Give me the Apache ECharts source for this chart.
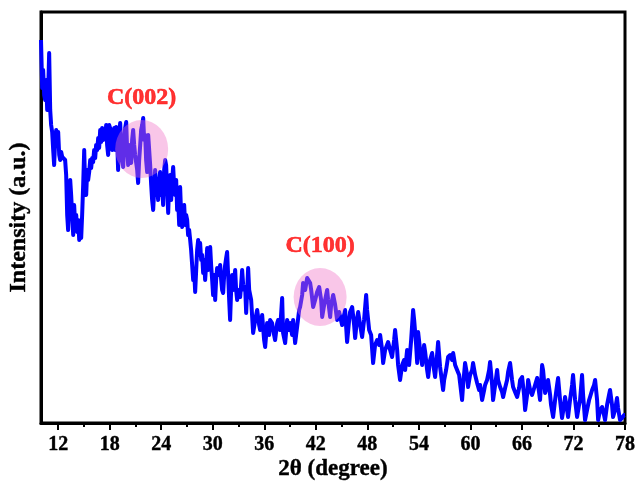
<!DOCTYPE html>
<html>
<head>
<meta charset="utf-8">
<script src="https://cdn.jsdelivr.net/npm/echarts@6/dist/echarts.min.js"></script>
<style>
  html, body { margin: 0; padding: 0; background: #fff; }
  #chart { width: 636px; height: 482px; }
</style>
</head>
<body>
<div id="chart"></div>
<script>
// XRD pattern: diffraction angle 2θ (degree) and intensity (a.u.)
const twoTheta = [
  10.00,10.14,10.25,10.37,10.49,10.60,10.72,10.84,10.95,11.07,11.18,11.30,11.42,11.53,11.65,11.77,11.88,12.00,12.12,12.23,
  12.35,12.47,12.58,12.70,12.81,12.93,13.05,13.16,13.28,13.40,13.51,13.63,13.75,13.86,13.98,14.10,14.21,14.33,14.45,14.56,
  14.68,14.79,14.91,15.03,15.14,15.26,15.38,15.49,15.61,15.73,15.84,15.96,16.07,16.19,16.31,16.42,16.54,16.66,16.77,16.89,
  17.00,17.12,17.24,17.35,17.47,17.59,17.70,17.82,17.94,18.05,18.17,18.29,18.40,18.52,18.64,18.75,18.87,18.98,19.10,19.22,
  19.33,19.45,19.57,19.68,19.80,19.92,20.03,20.15,20.26,20.38,20.50,20.61,20.73,20.85,20.96,21.08,21.20,21.31,21.43,21.55,
  21.66,21.78,21.90,22.01,22.13,22.24,22.36,22.48,22.59,22.71,22.83,22.94,23.06,23.18,23.29,23.41,23.53,23.64,23.76,23.87,
  23.99,24.11,24.22,24.34,24.46,24.57,24.69,24.81,24.92,25.04,25.16,25.27,25.39,25.50,25.62,25.74,25.85,25.97,26.09,26.20,
  26.32,26.44,26.55,26.67,26.79,26.90,27.02,27.13,27.25,27.37,27.48,27.60,27.72,27.83,27.95,28.07,28.18,28.30,28.42,28.53,
  28.65,28.76,28.88,29.00,29.11,29.23,29.35,29.46,29.58,29.70,29.81,29.93,30.04,30.16,30.28,30.39,30.51,30.63,30.74,30.86,
  30.98,31.09,31.21,31.33,31.44,31.56,31.67,31.79,31.91,32.02,32.14,32.26,32.37,32.49,32.61,32.72,32.84,32.96,33.07,33.19,
  33.30,33.42,33.54,33.65,33.77,33.89,34.12,34.24,34.47,34.70,34.94,35.17,35.40,35.52,35.75,35.98,36.10,36.33,36.56,36.68,
  36.91,37.03,37.26,37.50,37.61,37.84,38.08,38.19,38.43,38.66,38.89,39.01,39.24,39.36,39.59,39.82,40.06,40.17,40.41,40.52,
  40.76,40.99,41.11,41.34,41.46,41.69,41.92,42.15,42.39,42.50,42.62,42.74,42.97,43.20,43.32,43.43,43.67,43.78,44.02,44.25,
  44.48,44.71,44.83,45.06,45.18,45.41,45.64,45.88,45.99,46.23,46.46,46.58,46.81,46.93,47.16,47.39,47.62,47.86,47.97,48.21,
  48.44,48.67,48.90,49.14,49.37,49.49,49.72,49.84,50.07,50.42,50.65,50.88,51.12,51.23,51.47,51.58,51.81,52.05,52.28,52.40,
  52.63,52.86,53.10,53.33,53.45,53.68,53.80,53.91,54.14,54.38,54.61,54.73,54.96,55.08,55.31,55.54,55.77,55.89,56.12,56.24,
  56.47,56.59,56.82,56.94,57.17,57.40,57.64,57.87,57.99,58.22,58.45,58.69,58.80,59.03,59.15,59.38,59.62,59.73,59.96,60.20,
  60.31,60.55,60.78,61.01,61.13,61.36,61.60,61.71,61.94,62.18,62.29,62.53,62.64,62.88,63.11,63.22,63.46,63.69,63.81,64.04,
  64.27,64.39,64.62,64.85,64.97,65.20,65.44,65.67,65.79,66.02,66.25,66.37,66.60,66.72,66.95,67.18,67.30,67.53,67.77,67.88,
  68.11,68.35,68.46,68.70,68.93,69.04,69.28,69.39,69.63,69.86,70.09,70.21,70.44,70.67,70.91,71.02,71.26,71.37,71.60,71.84,
  71.95,72.19,72.42,72.65,72.77,73.00,73.12,73.35,73.58,73.82,73.93,74.17,74.40,74.52,74.75,74.87,75.10,75.33,75.56,75.68,
  75.91,76.14,76.26,76.49,76.61,76.84,77.07,77.19,77.42,77.66,77.89,78.00
];
const intensity = [
  383,335,353,328,323,343,313,333,370,313,298,291,273,258,283,293,278,291,268,263,
  271,266,268,267,263,248,208,193,223,243,228,208,188,218,198,208,191,203,183,193,
  185,208,238,273,238,228,253,243,251,263,255,265,261,273,265,278,273,285,275,293,
  281,295,283,293,285,298,278,268,298,295,283,273,288,295,273,296,283,253,288,300,
  278,263,256,283,295,301,273,258,278,273,260,283,293,278,268,270,253,240,263,278,
  293,298,305,283,288,263,251,288,286,258,238,223,213,233,253,228,238,223,243,251,
  228,238,218,253,263,258,233,210,238,248,223,243,256,238,228,243,213,223,198,236,
  208,196,213,218,198,208,203,188,193,183,173,158,143,153,131,153,173,183,168,180,
  163,168,150,163,143,158,175,153,163,176,158,143,128,148,123,143,155,156,148,158,
  143,133,130,148,158,165,171,148,123,103,133,148,133,143,153,133,123,133,133,126,
  138,153,138,133,136,110,155,133,123,90,103,113,98,93,108,83,76,100,88,103,
  100,93,83,100,103,93,125,90,80,103,93,100,88,103,80,96,113,116,128,140,
  133,145,146,140,133,116,123,131,136,136,123,106,118,128,133,123,106,118,128,118,
  103,111,113,98,96,113,81,103,111,116,98,85,105,111,98,86,103,128,113,93,
  88,60,78,83,78,88,73,60,73,81,73,66,83,93,73,58,43,58,63,53,
  73,58,83,113,103,78,60,91,73,58,78,71,53,46,63,70,53,46,68,81,
  56,48,33,43,53,66,68,63,70,58,53,48,40,23,38,60,48,36,48,53,
  60,48,40,33,38,23,33,38,43,53,61,38,23,38,53,43,36,31,26,35,
  43,51,60,43,36,31,26,35,43,46,28,13,28,43,33,28,26,38,45,38,
  23,58,53,30,38,43,28,18,6,23,38,45,23,5,18,26,13,6,23,38,
  48,23,6,18,23,48,28,3,13,23,26,33,38,43,23,3,13,16,8,3,
  18,28,33,18,6,13,25,15,3,5,8,8
];

// Axis ticks
const majorTicks = [12, 18, 24, 30, 36, 42, 48, 54, 60, 66, 72, 78];
const minorTicks = [15, 21, 27, 33, 39, 45, 51, 57, 63, 69, 75];

// Highlighted carbon reflections: label, 2θ centre, intensity centre
const peakLabels = ['C(002)', 'C(100)'];
const peakTheta = [21.72, 42.50];
const peakIntensity = [274, 126];

const FONT = 'Liberation Serif';

const lineData = twoTheta.map((t, i) => [t, intensity[i]]);
const peakData = peakLabels.map((name, i) => ({ name: name, value: [peakTheta[i], peakIntensity[i]] }));

const boldBlack = (size) => ({
  fontFamily: FONT, fontWeight: 'bold', fontSize: size, color: '#000',
  textBorderColor: '#000', textBorderWidth: 0.4
});

const chart = echarts.init(document.getElementById('chart'), null, { renderer: 'canvas' });
chart.setOption({
  animation: false,
  backgroundColor: '#ffffff',
  grid: {
    left: 41, right: 11, top: 12, bottom: 59,
    outerBoundsMode: 'none',
    containLabel: false,
    show: true, borderColor: '#000', borderWidth: 3,
    backgroundColor: 'transparent'
  },
  xAxis: [
    {
      type: 'value', min: 10, max: 78,
      name: '2θ (degree)', nameLocation: 'middle', nameGap: 35, nameMoveOverlap: false,
      nameTextStyle: boldBlack(23),
      axisLine: { show: true, onZero: false, lineStyle: { color: '#000', width: 3 } },
      axisTick: { show: true, inside: false, length: 7, customValues: majorTicks, lineStyle: { color: '#000', width: 2 } },
      axisLabel: Object.assign({ show: true, margin: 12, customValues: majorTicks }, boldBlack(20)),
      splitLine: { show: false }
    },
    {
      type: 'value', min: 10, max: 78, position: 'bottom',
      axisLine: { show: false },
      axisTick: { show: true, inside: false, length: 4, customValues: minorTicks, lineStyle: { color: '#000', width: 2 } },
      axisLabel: { show: false },
      splitLine: { show: false }
    }
  ],
  yAxis: {
    type: 'value', min: 0, max: 411,
    name: 'Intensity (a.u.)', nameLocation: 'middle', nameGap: 10, nameRotate: 90, nameMoveOverlap: false,
    nameTextStyle: boldBlack(24),
    axisLine: { show: true, onZero: false, lineStyle: { color: '#000', width: 3 } },
    axisTick: { show: false },
    axisLabel: { show: false },
    splitLine: { show: false }
  },
  series: [
    {
      type: 'line',
      data: lineData,
      showSymbol: false,
      symbol: 'none',
      clip: true,
      lineStyle: { color: '#0000ff', width: 4, join: 'round' },
      z: 2
    },
    {
      type: 'scatter',
      data: peakData,
      symbol: 'circle',
      symbolSize: [53, 58],
      itemStyle: { color: 'rgba(240, 112, 198, 0.5)' },
      label: {
        show: true, position: 'top', distance: 10,
        formatter: '{b}',
        fontFamily: FONT, fontWeight: 'bold', fontSize: 24, color: '#ff0000',
        textBorderColor: '#ff0000', textBorderWidth: 0.6
      },
      emphasis: { disabled: true },
      z: 3
    }
  ]
});
</script>
</body>
</html>
